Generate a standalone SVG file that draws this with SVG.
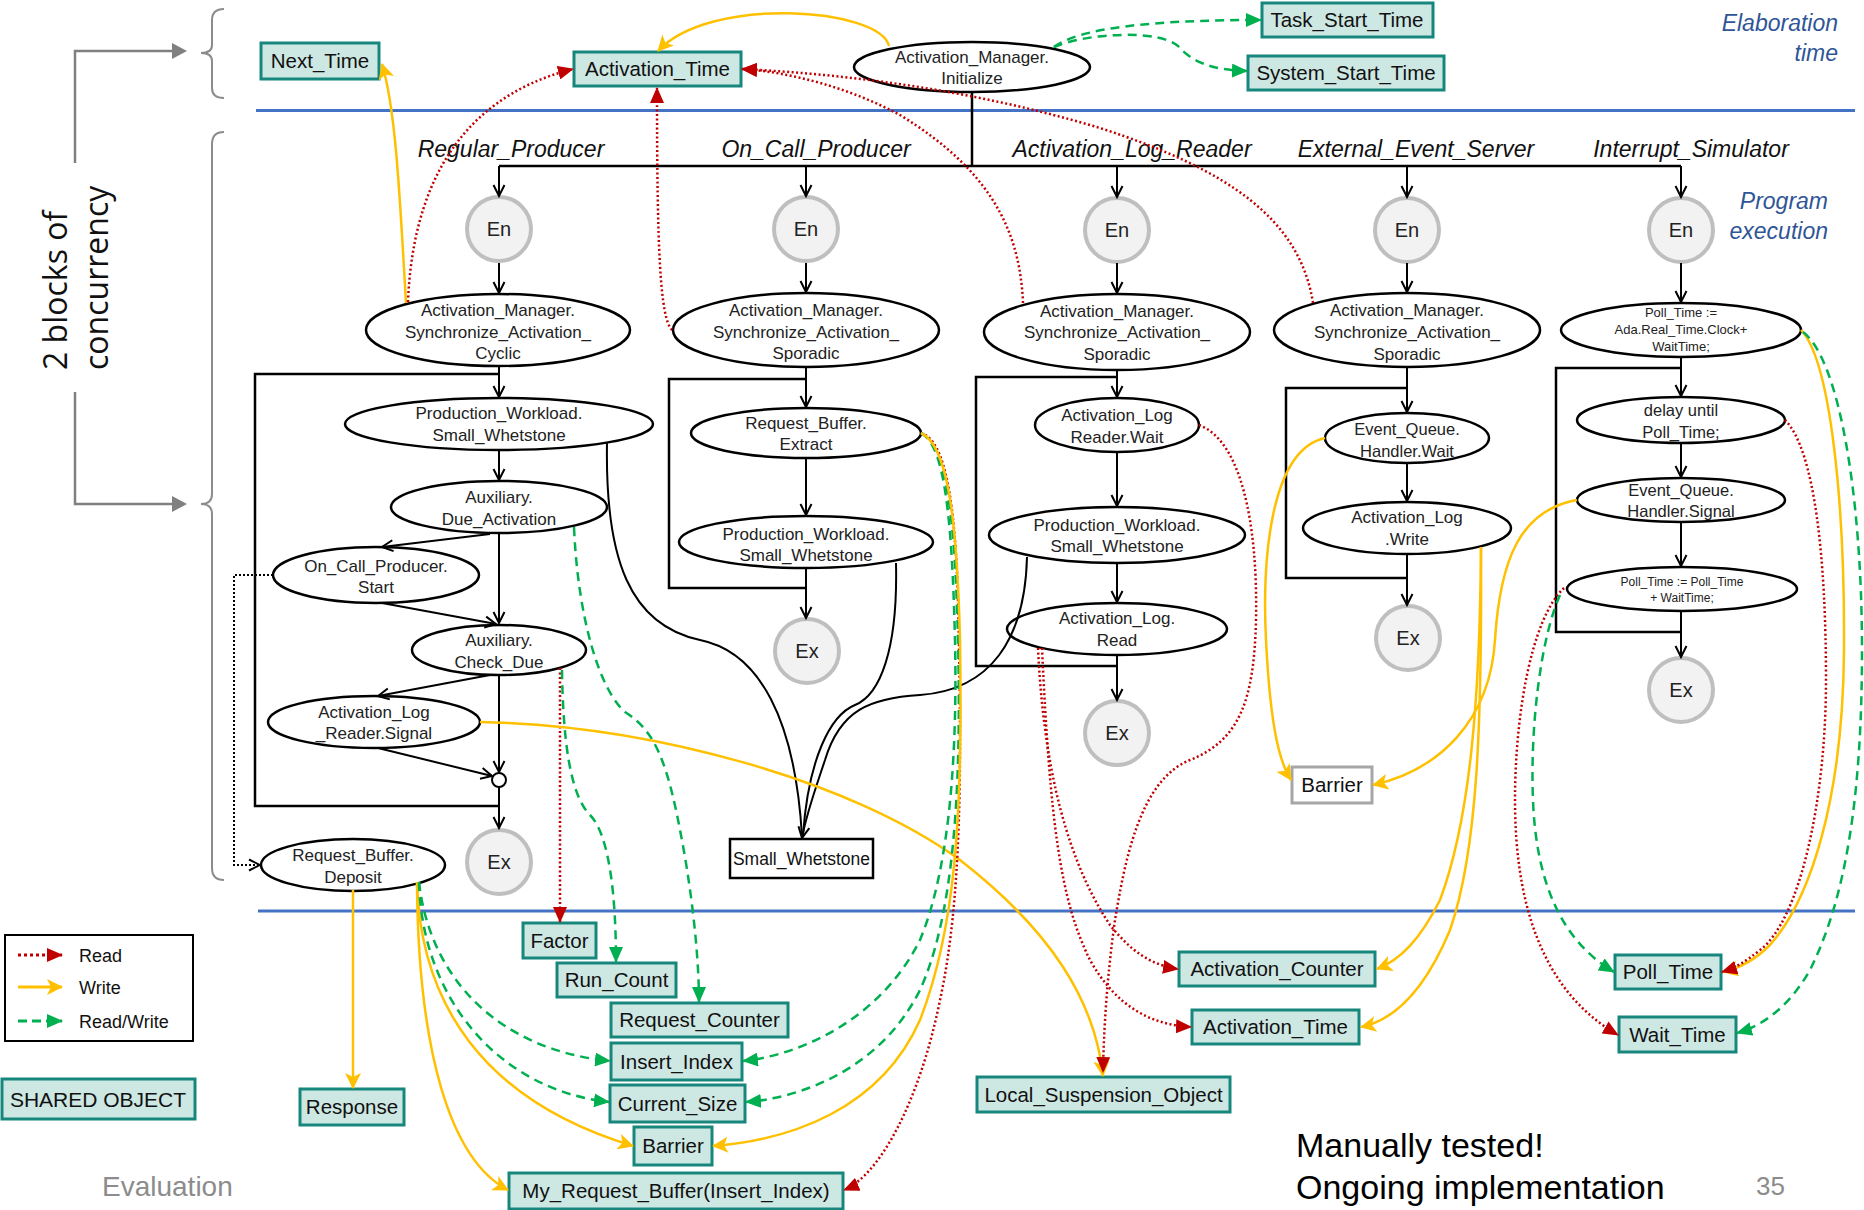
<svg xmlns="http://www.w3.org/2000/svg" width="1864" height="1210" viewBox="0 0 1864 1210">
<defs>
<style>
.bg{fill:#fff}
.ell{fill:#fff;stroke:#000;stroke-width:2.5}
.t{font-family:"Liberation Sans",Arial,sans-serif;font-size:17px;text-anchor:middle;fill:#222}
.ts{font-size:13px}
.tm{font-size:16.5px}
.tx{font-size:12px}
.so rect{fill:#CDE7E3;stroke:#17867C;stroke-width:3}
.so text,.bt{font-family:"Liberation Sans",Arial,sans-serif;font-size:20.5px;text-anchor:middle;fill:#111}
.ee circle{fill:#F2F2F2;stroke:#BFBFBF;stroke-width:4}
.ee text{font-family:"Liberation Sans",Arial,sans-serif;font-size:20px;text-anchor:middle;fill:#222}
.hd{font-family:"Liberation Sans",Arial,sans-serif;font-size:23px;font-style:italic;text-anchor:middle;fill:#111}
.ph{font-family:"Liberation Sans",Arial,sans-serif;font-size:23px;font-style:italic;text-anchor:end;fill:#2F5597}
.flow{fill:none;stroke:#000;stroke-width:2;marker-end:url(#ab)}
.line{fill:none;stroke:#000;stroke-width:2.5}
.rd{fill:none;stroke:#C00000;stroke-width:2.5;stroke-dasharray:2 2.5;marker-end:url(#ar)}
.wr{fill:none;stroke:#FFC000;stroke-width:2.5;marker-end:url(#ay)}
.rw{fill:none;stroke:#00B050;stroke-width:2.5;stroke-dasharray:9 6;marker-end:url(#ag)}
.gray{fill:none;stroke:#808080;stroke-width:2.5}
.brace{fill:none;stroke:#8C8C8C;stroke-width:2}
.blue{stroke:#4472C4;stroke-width:3}
</style>
<marker id="ab" markerUnits="userSpaceOnUse" markerWidth="14" markerHeight="14" viewBox="0 0 14 14" refX="12" refY="7" orient="auto"><path d="M1,1.5 L12,7 L1,12.5" fill="none" stroke="#000" stroke-width="2"/></marker>
<marker id="ar" markerUnits="userSpaceOnUse" markerWidth="16" markerHeight="14" viewBox="0 0 16 14" refX="15" refY="7" orient="auto"><path d="M0,0 L16,7 L0,14 Z" fill="#C00000"/></marker>
<marker id="ay" markerUnits="userSpaceOnUse" markerWidth="16" markerHeight="16" viewBox="0 0 16 16" refX="15" refY="8" orient="auto"><path d="M0,0 L16,8 L0,16 L4,8 Z" fill="#FFC000"/></marker>
<marker id="ag" markerUnits="userSpaceOnUse" markerWidth="16" markerHeight="14" viewBox="0 0 16 14" refX="15" refY="7" orient="auto"><path d="M0,0 L16,7 L0,14 Z" fill="#00B050"/></marker>
</defs>
<rect class="bg" x="0" y="0" width="1864" height="1210"/>

<g id="decor">
<line class="blue" x1="256" y1="110.5" x2="1855" y2="110.5"/>
<line class="blue" x1="258" y1="911" x2="1855" y2="911"/>
<path class="gray" d="M75,163 L75,51 L172,51"/>
<path d="M172,43 L187,51 L172,59 Z" fill="#808080"/>
<path class="gray" d="M75,392 L75,504 L172,504"/>
<path d="M172,496 L187,504 L172,512 Z" fill="#808080"/>
<path class="brace" d="M224,9 Q212,9 212,20 L212,45 Q212,53 201,53 Q212,53 212,61 L212,88 Q212,98 224,98"/>
<path class="brace" d="M224,132 Q212,132 212,144 L212,494 Q212,504 201,504 Q212,504 212,514 L212,868 Q212,880 224,880"/>
<text transform="translate(67,370) rotate(-90)" font-family="'Open Sans',sans-serif" font-size="32" fill="#111">2 blocks of</text>
<text transform="translate(108,370) rotate(-90)" font-family="'Open Sans',sans-serif" font-size="32" fill="#111">concurrency</text>
<text class="ph" x="1838" y="31">Elaboration</text>
<text class="ph" x="1838" y="61">time</text>
<text class="ph" x="1828" y="209">Program</text>
<text class="ph" x="1828" y="239">execution</text>
<text class="hd" x="511" y="157">Regular_Producer</text>
<text class="hd" x="816" y="157">On_Call_Producer</text>
<text class="hd" x="1132" y="157">Activation_Log_Reader</text>
<text class="hd" x="1416" y="157">External_Event_Server</text>
<text class="hd" x="1691" y="157">Interrupt_Simulator</text>
<text x="102" y="1196" font-family="'Liberation Sans',Arial,sans-serif" font-size="28" fill="#8C8C8C">Evaluation</text>
<text x="1756" y="1195" font-family="'Liberation Sans',Arial,sans-serif" font-size="26" fill="#8C8C8C">35</text>
<text x="1296" y="1157" font-family="'Liberation Sans',Arial,sans-serif" font-size="34" fill="#000">Manually tested!</text>
<text x="1296" y="1199" font-family="'Liberation Sans',Arial,sans-serif" font-size="34" fill="#000">Ongoing implementation</text>
</g>

<g id="legend">
<rect x="5" y="935" width="188" height="106" fill="#fff" stroke="#000" stroke-width="2"/>
<line x1="18" y1="955" x2="62" y2="955" stroke="#C00000" stroke-width="3" stroke-dasharray="3 3" marker-end="url(#ar)"/>
<line x1="18" y1="987" x2="62" y2="987" stroke="#FFC000" stroke-width="3" marker-end="url(#ay)"/>
<line x1="18" y1="1021" x2="62" y2="1021" stroke="#00B050" stroke-width="3" stroke-dasharray="9 5" marker-end="url(#ag)"/>
<text x="79" y="962" font-family="'Liberation Sans',Arial,sans-serif" font-size="18" fill="#111">Read</text>
<text x="79" y="994" font-family="'Liberation Sans',Arial,sans-serif" font-size="18" fill="#111">Write</text>
<text x="79" y="1028" font-family="'Liberation Sans',Arial,sans-serif" font-size="18" fill="#111">Read/Write</text>
</g>
<g id="shared_object_key" class="so"><rect x="2" y="1079" width="193" height="40"/><text x="98" y="1107" style="font-size:21px">SHARED OBJECT</text></g>

<g id="loops">
<path class="line" d="M499,374 L255,374 L255,806 L499,806"/>
<path class="line" d="M806,379 L669,379 L669,588 L806,588"/>
<path class="line" d="M1117,377 L976,377 L976,666 L1117,666"/>
<path class="line" d="M1407,388 L1286,388 L1286,578 L1407,578"/>
<path class="line" d="M1681,368 L1556,368 L1556,632 L1681,632"/>
<path class="line" d="M972,92 L972,166"/>
<path class="line" d="M499,166 L1681,166"/>
</g>

<g id="Next_Time" class="so"><rect x="261" y="43" width="118" height="36"/><text x="320" y="68">Next_Time</text></g>
<g id="Activation_Time_top" class="so"><rect x="574" y="52" width="167" height="34"/><text x="657.5" y="76">Activation_Time</text></g>
<g id="Task_Start_Time" class="so"><rect x="1262" y="3" width="171" height="34"/><text x="1347" y="27">Task_Start_Time</text></g>
<g id="System_Start_Time" class="so"><rect x="1248" y="56" width="196" height="34"/><text x="1346" y="80">System_Start_Time</text></g>
<g id="Factor" class="so"><rect x="523" y="923" width="73" height="35"/><text x="559.5" y="948">Factor</text></g>
<g id="Run_Count" class="so"><rect x="557" y="963" width="119" height="34"/><text x="616.5" y="987">Run_Count</text></g>
<g id="Request_Counter" class="so"><rect x="611" y="1003" width="177" height="34"/><text x="699.5" y="1027">Request_Counter</text></g>
<g id="Insert_Index" class="so"><rect x="611" y="1043" width="131" height="37"/><text x="676.5" y="1069">Insert_Index</text></g>
<g id="Current_Size" class="so"><rect x="610" y="1085" width="135" height="37"/><text x="677.5" y="1111">Current_Size</text></g>
<g id="Barrier_bottom" class="so"><rect x="634" y="1127" width="78" height="38"/><text x="673" y="1153">Barrier</text></g>
<g id="My_Request_Buffer" class="so"><rect x="509" y="1173" width="334" height="36"/><text x="676" y="1198">My_Request_Buffer(Insert_Index)</text></g>
<g id="Response" class="so"><rect x="300" y="1089" width="104" height="36"/><text x="352" y="1114">Response</text></g>
<g id="Local_Suspension_Object" class="so"><rect x="977" y="1077" width="253" height="35"/><text x="1103.5" y="1102">Local_Suspension_Object</text></g>
<g id="Activation_Counter" class="so"><rect x="1179" y="952" width="196" height="34"/><text x="1277" y="976">Activation_Counter</text></g>
<g id="Activation_Time_bottom" class="so"><rect x="1192" y="1010" width="167" height="34"/><text x="1275.5" y="1034">Activation_Time</text></g>
<g id="Poll_Time" class="so"><rect x="1615" y="955" width="106" height="34"/><text x="1668" y="979">Poll_Time</text></g>
<g id="Wait_Time" class="so"><rect x="1619" y="1017" width="117" height="35"/><text x="1677.5" y="1042">Wait_Time</text></g>
<g id="Small_Whetstone"><rect x="730" y="839" width="143" height="39" fill="#fff" stroke="#000" stroke-width="2.5"/><text class="bt" x="801.5" y="865" style="font-size:17.5px">Small_Whetstone</text></g>
<g id="Barrier_right"><rect x="1292" y="767" width="80" height="36" fill="#fff" stroke="#A6A6A6" stroke-width="3"/><text class="bt" x="1332" y="792">Barrier</text></g>

<g id="en_regular" class="ee"><circle cx="499" cy="229" r="32"/><text x="499" y="236">En</text></g>
<g id="en_oncall" class="ee"><circle cx="806" cy="229" r="32"/><text x="806" y="236">En</text></g>
<g id="en_alr" class="ee"><circle cx="1117" cy="230" r="32"/><text x="1117" y="237">En</text></g>
<g id="en_ext" class="ee"><circle cx="1407" cy="230" r="32"/><text x="1407" y="237">En</text></g>
<g id="en_int" class="ee"><circle cx="1681" cy="230" r="32"/><text x="1681" y="237">En</text></g>
<g id="ex_regular" class="ee"><circle cx="499" cy="862" r="32"/><text x="499" y="869">Ex</text></g>
<g id="ex_oncall" class="ee"><circle cx="807" cy="651" r="32"/><text x="807" y="658">Ex</text></g>
<g id="ex_alr" class="ee"><circle cx="1117" cy="733" r="32"/><text x="1117" y="740">Ex</text></g>
<g id="ex_ext" class="ee"><circle cx="1408" cy="638" r="32"/><text x="1408" y="645">Ex</text></g>
<g id="ex_int" class="ee"><circle cx="1681" cy="690" r="32"/><text x="1681" y="697">Ex</text></g>
<g id="merge_regular"><circle cx="499" cy="780" r="7" fill="#fff" stroke="#000" stroke-width="2"/></g>

<g id="initialize"><ellipse class="ell" cx="972" cy="67" rx="118" ry="25"/><text class="t" x="972" y="63">Activation_Manager.</text><text class="t" x="972" y="84">Initialize</text></g>
<g id="reg_sync"><ellipse class="ell" cx="498" cy="330" rx="132" ry="36"/><text class="t" x="498" y="316">Activation_Manager.</text><text class="t" x="498" y="338">Synchronize_Activation_</text><text class="t" x="498" y="359">Cyclic</text></g>
<g id="oc_sync"><ellipse class="ell" cx="806" cy="330" rx="133" ry="37"/><text class="t" x="806" y="316">Activation_Manager.</text><text class="t" x="806" y="338">Synchronize_Activation_</text><text class="t" x="806" y="359">Sporadic</text></g>
<g id="alr_sync"><ellipse class="ell" cx="1117" cy="332" rx="133" ry="38"/><text class="t" x="1117" y="317">Activation_Manager.</text><text class="t" x="1117" y="338">Synchronize_Activation_</text><text class="t" x="1117" y="360">Sporadic</text></g>
<g id="ext_sync"><ellipse class="ell" cx="1407" cy="330" rx="133" ry="37"/><text class="t" x="1407" y="316">Activation_Manager.</text><text class="t" x="1407" y="338">Synchronize_Activation_</text><text class="t" x="1407" y="360">Sporadic</text></g>
<g id="int_poll_init"><ellipse class="ell" cx="1681" cy="330" rx="120" ry="27"/><text class="t ts" x="1681" y="317">Poll_Time :=</text><text class="t ts" x="1681" y="334">Ada.Real_Time.Clock+</text><text class="t ts" x="1681" y="351">WaitTime;</text></g>
<g id="reg_pw"><ellipse class="ell" cx="499" cy="424" rx="154" ry="26"/><text class="t" x="499" y="419">Production_Workload.</text><text class="t" x="499" y="441">Small_Whetstone</text></g>
<g id="reg_due"><ellipse class="ell" cx="499" cy="507" rx="108" ry="26"/><text class="t" x="499" y="503">Auxiliary.</text><text class="t" x="499" y="525">Due_Activation</text></g>
<g id="reg_start"><ellipse class="ell" cx="376" cy="575" rx="103" ry="28"/><text class="t" x="376" y="572">On_Call_Producer.</text><text class="t" x="376" y="593">Start</text></g>
<g id="reg_check"><ellipse class="ell" cx="499" cy="650" rx="87" ry="25"/><text class="t" x="499" y="646">Auxiliary.</text><text class="t" x="499" y="668">Check_Due</text></g>
<g id="reg_signal"><ellipse class="ell" cx="374" cy="722" rx="106" ry="26"/><text class="t" x="374" y="718">Activation_Log</text><text class="t" x="374" y="739">_Reader.Signal</text></g>
<g id="reg_deposit"><ellipse class="ell" cx="353" cy="865" rx="92" ry="26"/><text class="t" x="353" y="861">Request_Buffer.</text><text class="t" x="353" y="883">Deposit</text></g>
<g id="oc_extract"><ellipse class="ell" cx="806" cy="433" rx="115" ry="25"/><text class="t" x="806" y="429">Request_Buffer.</text><text class="t" x="806" y="450">Extract</text></g>
<g id="oc_pw"><ellipse class="ell" cx="806" cy="542" rx="127" ry="26"/><text class="t" x="806" y="540">Production_Workload.</text><text class="t" x="806" y="561">Small_Whetstone</text></g>
<g id="alr_wait"><ellipse class="ell" cx="1117" cy="425" rx="82" ry="27"/><text class="t" x="1117" y="421">Activation_Log</text><text class="t" x="1117" y="443">Reader.Wait</text></g>
<g id="alr_pw"><ellipse class="ell" cx="1117" cy="535" rx="128" ry="28"/><text class="t" x="1117" y="531">Production_Workload.</text><text class="t" x="1117" y="552">Small_Whetstone</text></g>
<g id="alr_read"><ellipse class="ell" cx="1117" cy="629" rx="110" ry="26"/><text class="t" x="1117" y="624">Activation_Log.</text><text class="t" x="1117" y="646">Read</text></g>
<g id="ext_wait"><ellipse class="ell" cx="1407" cy="438" rx="82" ry="25"/><text class="t tm" x="1407" y="435">Event_Queue.</text><text class="t tm" x="1407" y="457">Handler.Wait</text></g>
<g id="ext_write"><ellipse class="ell" cx="1407" cy="528" rx="104" ry="26"/><text class="t" x="1407" y="523">Activation_Log</text><text class="t" x="1407" y="545">.Write</text></g>
<g id="int_delay"><ellipse class="ell" cx="1681" cy="420" rx="104" ry="23"/><text class="t tm" x="1681" y="416">delay until</text><text class="t tm" x="1681" y="438">Poll_Time;</text></g>
<g id="int_signal"><ellipse class="ell" cx="1681" cy="500" rx="104" ry="22"/><text class="t tm" x="1681" y="496">Event_Queue.</text><text class="t tm" x="1681" y="517">Handler.Signal</text></g>
<g id="int_poll_next"><ellipse class="ell" cx="1682" cy="589" rx="115" ry="22"/><text class="t tx" x="1682" y="586">Poll_Time := Poll_Time</text><text class="t tx" x="1682" y="602">+ WaitTime;</text></g>

<g id="connectors">
<path class="flow" d="M499,166 L499,196"/>
<path class="flow" d="M499,263 L499,293"/>
<path class="flow" d="M499,366 L499,397"/>
<path class="flow" d="M499,450 L499,480"/>
<path class="flow" d="M499,533 L499,623"/>
<path class="flow" d="M490,534 L382,547"/>
<path class="flow" d="M382,603 L496,624"/>
<path class="flow" d="M490,675 L378,696"/>
<path class="flow" d="M499,675 L499,772"/>
<path class="flow" d="M378,748 L492,776"/>
<path class="flow" d="M499,787 L499,828"/>
<path fill="none" stroke="#000" stroke-width="2" stroke-dasharray="2 2" marker-end="url(#ab)" d="M273,575 L234,575 L234,865 L260,865"/>
<path class="flow" d="M806,166 L806,196"/>
<path class="flow" d="M806,263 L806,292"/>
<path class="flow" d="M806,368 L806,407"/>
<path class="flow" d="M806,458 L806,515"/>
<path class="flow" d="M806,568 L806,618"/>
<path class="flow" d="M1117,166 L1117,197"/>
<path class="flow" d="M1117,263 L1117,293"/>
<path class="flow" d="M1117,370 L1117,397"/>
<path class="flow" d="M1117,452 L1117,506"/>
<path class="flow" d="M1117,563 L1117,602"/>
<path class="flow" d="M1117,655 L1117,700"/>
<path class="flow" d="M1407,166 L1407,197"/>
<path class="flow" d="M1407,263 L1407,292"/>
<path class="flow" d="M1407,368 L1407,412"/>
<path class="flow" d="M1407,463 L1407,501"/>
<path class="flow" d="M1407,553 L1407,605"/>
<path class="flow" d="M1681,166 L1681,197"/>
<path class="flow" d="M1681,263 L1681,302"/>
<path class="flow" d="M1681,357 L1681,396"/>
<path class="flow" d="M1681,442 L1681,477"/>
<path class="flow" d="M1681,522 L1681,566"/>
<path class="flow" d="M1681,612 L1681,657"/>
<path fill="none" stroke="#000" stroke-width="2" d="M607,443 C605,560 630,625 700,640 C760,652 795,720 802,836"/>
<path fill="none" stroke="#000" stroke-width="2" d="M896,563 C898,650 880,695 855,705 C830,715 808,760 803,836"/>
<path class="flow" d="M1027,557 C1025,640 990,690 920,695 C870,698 840,710 825,760 C815,790 806,815 802,838"/>

<path class="wr" d="M889,46 C880,8 710,-5 658,51"/>
<path class="rw" d="M1054,47 C1080,28 1150,20 1261,20"/>
<path class="rw" d="M1054,47 C1090,32 1160,30 1178,46 C1192,62 1212,70 1247,71"/>
<path class="wr" d="M406,303 C400,200 396,110 382,64"/>
<path class="rd" d="M408,302 C412,200 450,100 573,69"/>
<path class="rd" d="M672,330 C660,318 657,250 657,88"/>
<path class="rd" d="M1023,303 C1020,230 990,170 900,115 C850,88 790,72 742,69"/>
<path class="rd" d="M1313,303 C1300,220 1230,170 1100,128 C980,92 860,75 742,69"/>

<path class="rd" d="M560,668 L560,922"/>
<path class="rw" d="M574,527 C578,620 600,690 625,712 C650,728 665,750 680,830 C690,880 699,950 699,1002"/>
<path class="rw" d="M562,670 C563,740 570,795 590,815 C610,835 616,900 616,962"/>
<path class="wr" d="M480,722 C650,725 850,780 960,860 C1050,930 1095,1000 1103,1076"/>
<path class="wr" d="M353,890 L353,1088"/>
<path class="wr" d="M417,882 C420,1000 480,1100 633,1146"/>
<path class="wr" d="M417,882 C418,1050 450,1160 508,1190"/>
<path class="rw" d="M419,882 C430,980 500,1050 610,1061"/>
<path class="rw" d="M419,882 C422,1000 500,1090 609,1102"/>

<path class="rd" d="M921,433 C945,440 955,500 958,600 C962,760 962,900 940,1000 C920,1100 880,1175 844,1190"/>
<path class="rw" d="M921,433 C945,445 952,520 955,640 C958,780 945,880 920,940 C880,1020 800,1055 743,1061"/>
<path class="rw" d="M921,433 C947,445 955,520 958,640 C962,800 952,920 920,990 C880,1070 800,1098 746,1102"/>
<path class="wr" d="M921,433 C948,445 957,520 960,640 C963,820 955,930 920,1020 C880,1110 790,1140 713,1146"/>

<path class="rd" d="M1199,425 C1240,440 1258,520 1256,620 C1254,700 1240,740 1190,760 C1140,780 1125,860 1115,920 C1108,970 1104,1020 1103,1072"/>
<path class="rd" d="M1038,648 C1045,800 1080,880 1110,925 C1130,950 1150,965 1178,969"/>
<path class="rd" d="M1042,648 C1050,820 1060,900 1090,960 C1115,1005 1150,1025 1191,1027"/>

<path class="wr" d="M1325,438 C1270,450 1262,560 1266,640 C1270,720 1278,760 1291,780"/>
<path class="wr" d="M1481,547 C1480,700 1470,820 1440,900 C1420,940 1400,960 1377,969"/>
<path class="wr" d="M1481,547 C1482,720 1478,850 1450,930 C1425,990 1395,1020 1361,1027"/>

<path class="wr" d="M1577,500 C1520,510 1500,560 1495,640 C1490,720 1440,770 1373,785"/>
<path class="wr" d="M1801,330 C1830,360 1845,500 1844,650 C1843,800 1810,900 1770,945 C1755,960 1740,968 1723,972"/>
<path class="rd" d="M1785,420 C1815,450 1826,560 1826,680 C1826,800 1800,920 1760,950 C1745,962 1735,968 1722,972"/>
<path class="rw" d="M1803,332 C1840,360 1862,500 1862,650 C1862,800 1845,900 1810,970 C1790,1005 1765,1025 1737,1033"/>
<path class="rd" d="M1564,588 C1530,620 1515,720 1515,800 C1515,900 1540,990 1618,1035"/>
<path class="rw" d="M1560,595 C1540,640 1530,730 1533,800 C1536,880 1560,940 1614,972"/>
</g>
</svg>
